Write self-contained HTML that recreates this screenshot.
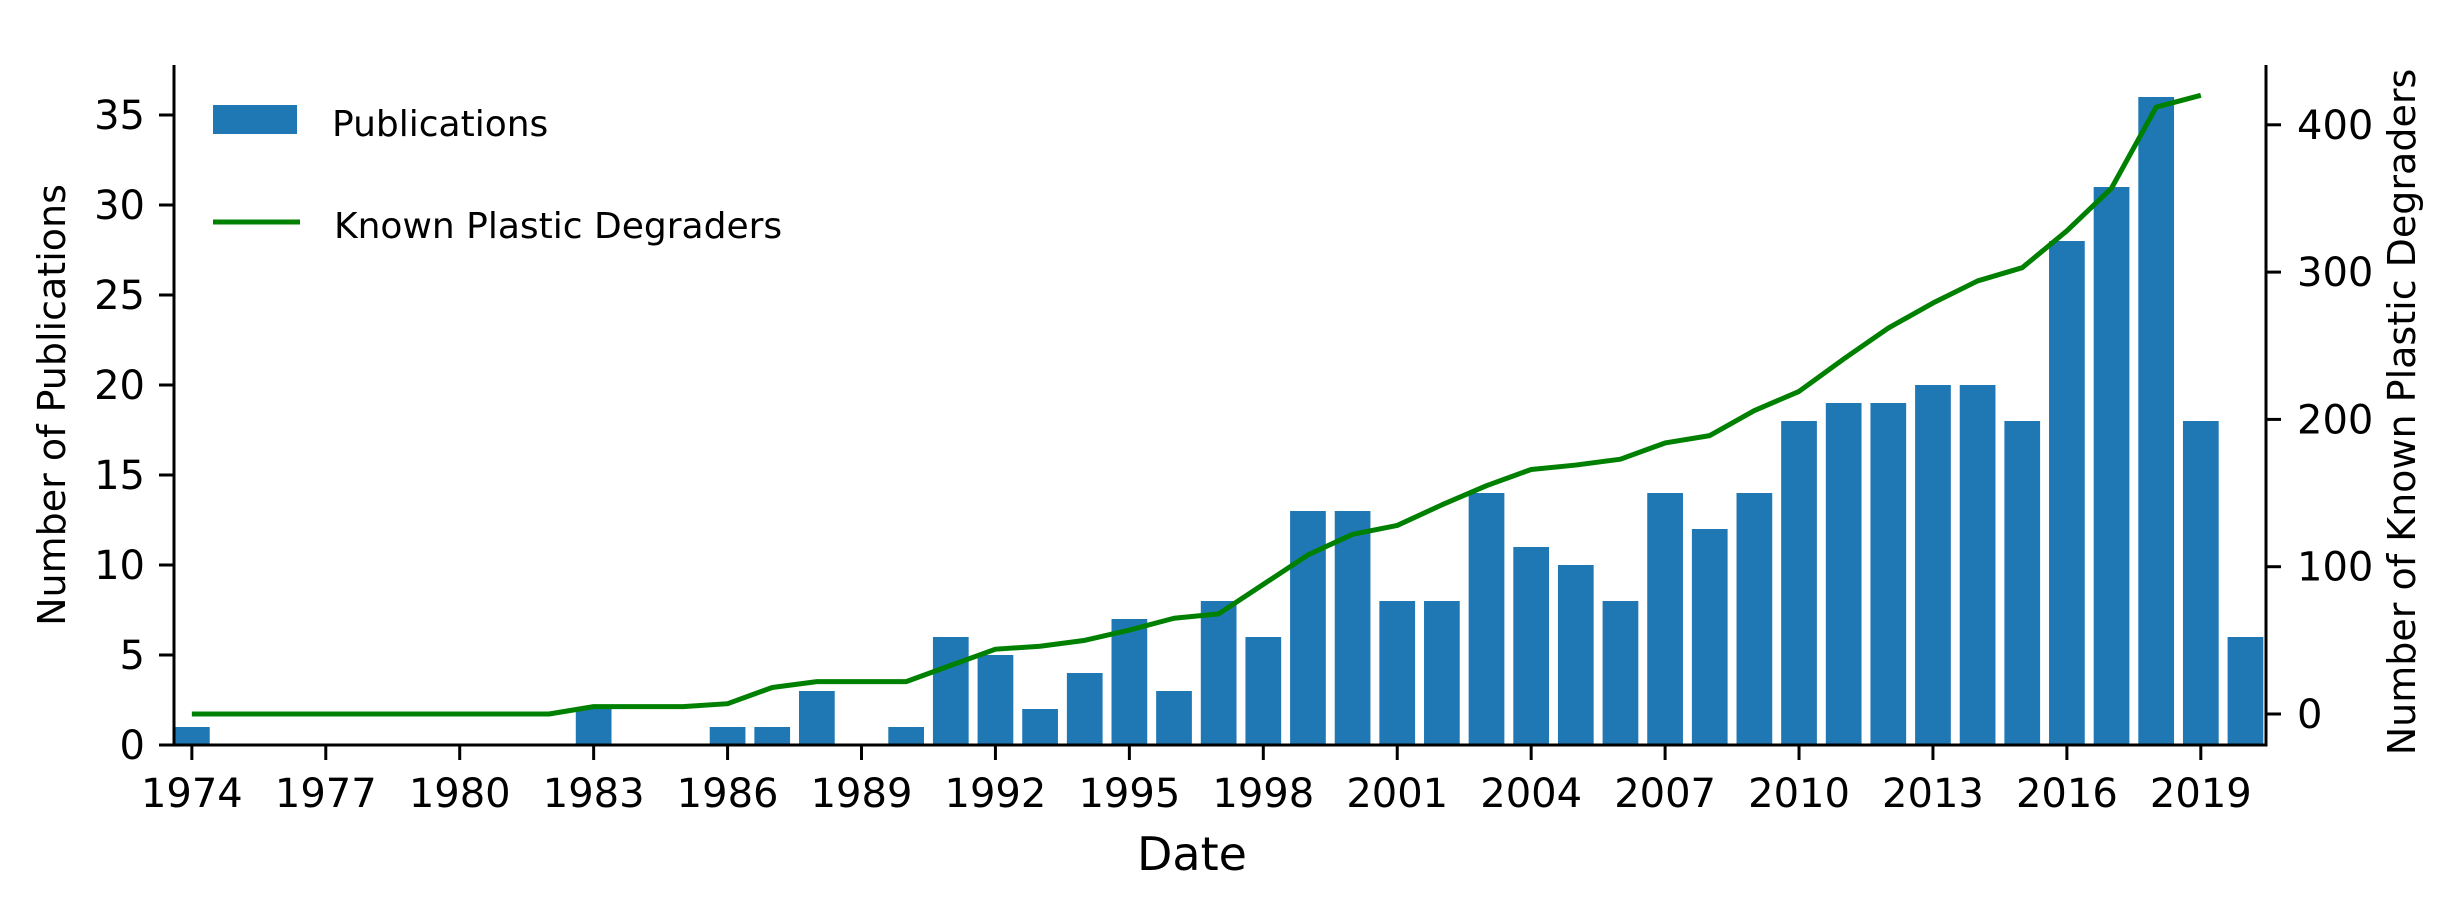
<!DOCTYPE html>
<html><head><meta charset="utf-8"><style>
html,body{margin:0;padding:0;background:#fff;}
svg{display:block;font-family:"DejaVu Sans","Liberation Sans",sans-serif;}
</style></head><body>
<svg id="chart" width="2461" height="909" viewBox="0 0 2461 909" xmlns="http://www.w3.org/2000/svg">
<g id="bars"></g>
<g id="line"></g>
<g id="axes"></g>
<g>
  <rect x="213" y="105" width="84" height="29" fill="#1f77b4"/>
  <text x="332" y="136" font-size="36">Publications</text>
  <line x1="213" y1="222" x2="300" y2="222" stroke="#008000" stroke-width="5"/>
  <text x="334" y="238" font-size="36">Known Plastic Degraders</text>
</g>
<text x="1192" y="870" font-size="46" text-anchor="middle">Date</text>
<text transform="translate(65,405) rotate(-90)" font-size="38" text-anchor="middle">Number of Publications</text>
<text transform="translate(2415,412) rotate(-90)" font-size="38" text-anchor="middle">Number of Known Plastic Degraders</text>
</svg>
<script>
const years = [1974,1975,1976,1977,1978,1979,1980,1981,1982,1983,1984,1985,1986,1987,1988,1989,1990,1991,1992,1993,1994,1995,1996,1997,1998,1999,2000,2001,2002,2003,2004,2005,2006,2007,2008,2009,2010,2011,2012,2013,2014,2015,2016,2017,2018,2019,2020];
const publications = [1,0,0,0,0,0,0,0,0,2,0,0,1,1,3,0,1,6,5,2,4,7,3,8,6,13,13,8,8,14,11,10,8,14,12,14,18,19,19,20,20,18,28,31,36,18,6];
const lineYears = [1974,1975,1976,1977,1978,1979,1980,1981,1982,1983,1984,1985,1986,1987,1988,1989,1990,1991,1992,1993,1994,1995,1996,1997,1998,1999,2000,2001,2002,2003,2004,2005,2006,2007,2008,2009,2010,2011,2012,2013,2014,2015,2016,2017,2018,2019];
const degraders = [0,0,0,0,0,0,0,0,0,5,5,5,7,18,22,22,22,33,44,46,50,57,65,68,88,108,122,128,142,155,166,169,173,184,189,206,219,241,262,279,294,303,328,357,412,420];
const xTicks = [1974,1977,1980,1983,1986,1989,1992,1995,1998,2001,2004,2007,2010,2013,2016,2019];
const leftTicks = [0,5,10,15,20,25,30,35];
const rightTicks = [0,100,200,300,400];

const NS = "http://www.w3.org/2000/svg";
const X0 = 174, X1 = 2266, Ytop = 65, Ybot = 745;
const xMin = 1973.6, xMax = 2020.46;
const x = v => X0 + (v - xMin) / (xMax - xMin) * (X1 - X0);
const yL = v => Ybot - v * 18.0;
const yR = v => 714 - v * 1.473;
const barW = 0.8 * (X1 - X0) / (xMax - xMin);
function mk(tag, attrs, parent){const e=document.createElementNS(NS,tag);for(const k in attrs)e.setAttribute(k,attrs[k]);parent.appendChild(e);return e;}

const bars = document.getElementById('bars');
years.forEach((yr,i)=>{
  const v = publications[i];
  const r = mk('rect',{x:x(yr)-barW/2,y:yL(v),width:barW,height:Ybot-yL(v),fill:'#1f77b4'},bars);
  
  
});

const lg = document.getElementById('line');
const pts = lineYears.map((yr,i)=>x(yr)+','+yR(degraders[i])).join(' ');
const pl = mk('polyline',{points:pts,fill:'none',stroke:'#008000','stroke-width':5,'stroke-linejoin':'round'},lg);



const ax = document.getElementById('axes');
const la = mk('line',{x1:X0,y1:Ytop,x2:X0,y2:Ybot+1.5,stroke:'#000','stroke-width':3},ax);


const ra = mk('line',{x1:X1,y1:Ytop,x2:X1,y2:Ybot+1.5,stroke:'#000','stroke-width':3},ax);


const ba = mk('line',{x1:X0-1.5,y1:Ybot,x2:X1+1.5,y2:Ybot,stroke:'#000','stroke-width':3},ax);



xTicks.forEach(t=>{
  const tk = mk('line',{x1:x(t),y1:Ybot,x2:x(t),y2:Ybot+15,stroke:'#000','stroke-width':3},ax);
  
  
  const tx = mk('text',{x:x(t),y:807,'font-size':40,'text-anchor':'middle'},ax);
  tx.textContent = t;
  
  
});
leftTicks.forEach(t=>{
  const tk = mk('line',{x1:X0-15,y1:yL(t),x2:X0,y2:yL(t),stroke:'#000','stroke-width':3},ax);
  
  
  const tx = mk('text',{x:145,y:yL(t)+14,'font-size':40,'text-anchor':'end'},ax);
  tx.textContent = t;
  
  
});
rightTicks.forEach(t=>{
  const tk = mk('line',{x1:X1,y1:yR(t),x2:X1+15,y2:yR(t),stroke:'#000','stroke-width':3},ax);
  
  
  const tx = mk('text',{x:2297,y:yR(t)+14,'font-size':40,'text-anchor':'start'},ax);
  tx.textContent = t;
  
  
});
</script>
</body></html>
